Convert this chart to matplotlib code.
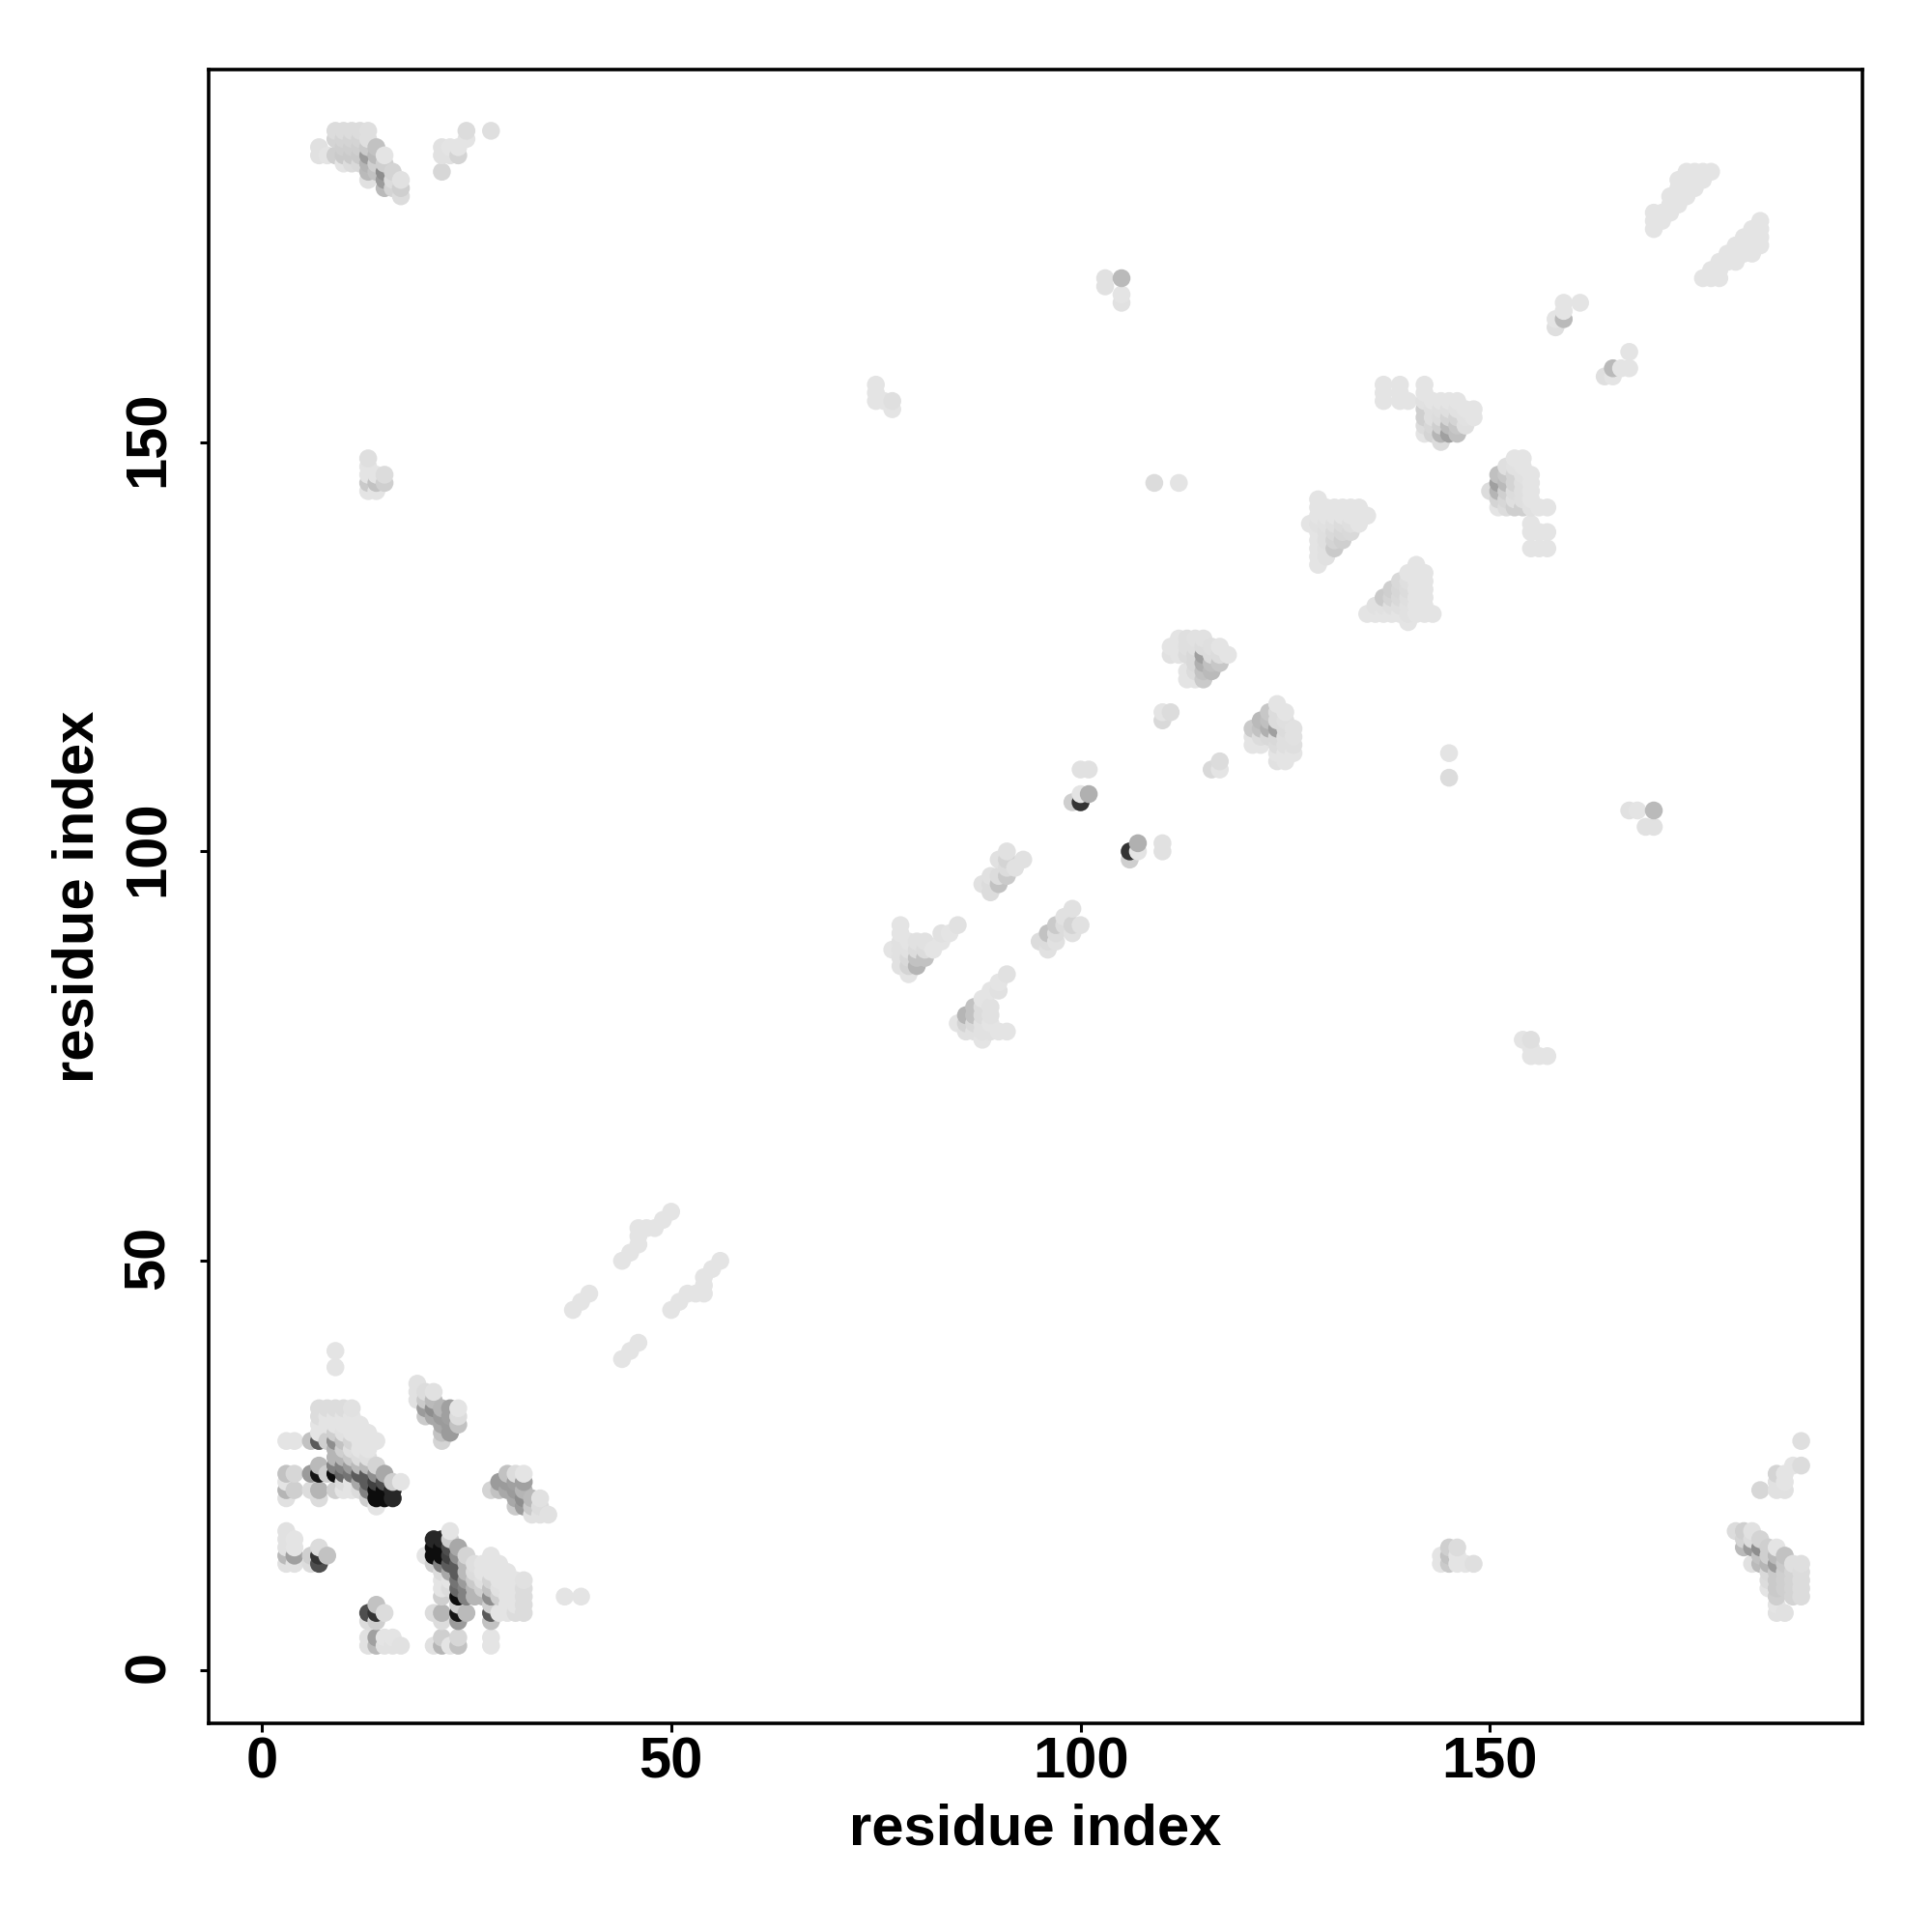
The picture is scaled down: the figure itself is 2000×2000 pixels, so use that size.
import matplotlib
matplotlib.use("Agg")
import matplotlib.pyplot as plt
from matplotlib.transforms import ScaledTranslation

plt.rcParams['font.family'] = ['Liberation Sans', 'DejaVu Sans']

# contact map: {residue i: {residue j: grey level}}, i < j; the map is symmetric
block_n_terminal = {
    3: {13: .87, 14: .72, 15: .87, 16: .87, 17: .87, 21: .87, 22: .7, 23: .88, 24: .75, 28: .88},
    4: {13: .87, 14: .62, 15: .88, 16: .88, 22: .8, 24: .83, 28: .88},
    6: {13: .85, 14: .8, 22: .85, 24: .6, 28: .75},
    7: {13: .3, 14: .2, 15: .85, 21: .85, 22: .7, 24: .08, 25: .72, 28: .35, 29: .88, 30: .88, 31: .85, 32: .85},
    8: {14: .75, 24: .8, 28: .8, 30: .88, 31: .88, 32: .85},
    9: {22: .8, 24: .05, 25: .5, 26: .7, 27: .7, 28: .55, 29: .8, 30: .88, 31: .88, 32: .85, 37: .88, 39: .88},
    10: {22: .88, 23: .85, 24: .4, 25: .5, 26: .7, 27: .8, 28: .75, 29: .87, 30: .88, 31: .88, 32: .85},
    11: {22: .88, 23: .88, 24: .45, 25: .6, 26: .78, 27: .86, 28: .82, 29: .88, 30: .88, 31: .88, 32: .87},
    12: {22: .85, 23: .65, 24: .35, 25: .72, 26: .85, 27: .88, 28: .88, 29: .88, 30: .88},
    13: {21: .8, 22: .5, 23: .35, 24: .35, 25: .72, 26: .86, 27: .88, 28: .88, 29: .88},
    14: {20: .88, 21: .05, 22: .05, 23: .25, 24: .55, 25: .82, 28: .88},
    15: {21: .05, 22: .05, 23: .3, 24: .65},
    16: {21: .15, 22: .15, 23: .8},
    17: {23: .88},
    19: {33: .87, 34: .87, 35: .87},
    20: {31: .78, 32: .6, 33: .78, 34: .85},
    21: {31: .65, 32: .55, 33: .72, 34: .87},
    22: {28: .82, 29: .75, 30: .65, 31: .6, 32: .7},
    23: {29: .6, 30: .6, 31: .62, 32: .62},
    24: {30: .75, 31: .85, 32: .88},
}
block_strand_pairs = {
    38: {44: .88}, 39: {45: .88}, 40: {46: .88},
    44: {50: .88}, 45: {51: .88}, 46: {52: .88, 53: .88, 54: .88},
    47: {54: .88}, 48: {54: .88}, 49: {55: .88}, 50: {56: .88},
}
block_long_range = {
    7: {185: .87, 186: .87},
    8: {185: .88},
    9: {185: .8, 187: .82, 188: .85},
    10: {184: .88, 185: .78, 186: .8, 187: .82, 188: .85},
    11: {184: .85, 185: .78, 186: .8, 187: .82, 188: .85},
    12: {184: .84, 185: .78, 186: .8, 187: .82, 188: .85},
    13: {144: .88, 145: .78, 146: .88, 147: .88, 148: .86, 182: .87, 183: .72, 184: .7, 185: .6, 186: .78, 187: .86, 188: .86},
    14: {144: .88, 145: .75, 146: .88, 183: .75, 184: .8, 185: .72, 186: .75},
    15: {145: .8, 146: .85, 181: .72, 182: .6, 183: .55, 184: .8, 185: .88},
    16: {181: .82, 182: .85, 183: .82},
    17: {180: .85, 181: .8, 182: .87},
    22: {183: .83, 185: .87, 186: .87},
    23: {185: .87, 186: .88},
    24: {185: .82, 186: .88},
    25: {187: .88, 188: .85},
    28: {188: .86},
    75: {155: .88, 156: .88, 157: .88},
    76: {155: .88},
    77: {154: .88, 155: .86},
    103: {169: .87, 170: .87},
    105: {167: .87, 168: .88, 170: .72},
    109: {145: .85},
    112: {145: .88},
}
block_middle = {
    77: {88: .88},
    78: {86: .87, 87: .87, 88: .87, 89: .87, 90: .88, 91: .88},
    79: {85: .88, 86: .82, 87: .84, 88: .87, 89: .88},
    80: {86: .7, 87: .75, 88: .85, 89: .87},
    81: {87: .75, 88: .85, 89: .87},
    82: {88: .88},
    83: {89: .88, 90: .87},
    84: {90: .88},
    85: {91: .87},
    88: {96: .87},
    89: {95: .85, 96: .85, 97: .87},
    90: {96: .75, 97: .85, 99: .87},
    91: {97: .78, 98: .85, 99: .82, 100: .87},
    92: {98: .87},
    93: {99: .87},
    99: {106: .8},
    100: {106: .2, 107: .88, 110: .87},
    101: {107: .68, 110: .87},
}
block_c_terminal = {
    110: {116: .84, 117: .88},
    111: {117: .85, 124: .87, 125: .88},
    112: {124: .88, 125: .88, 126: .88},
    113: {121: .88, 122: .88, 124: .85, 125: .86, 126: .86},
    114: {121: .88, 122: .85, 123: .84, 124: .84, 125: .86, 126: .87},
    115: {121: .78, 122: .75, 123: .68, 124: .62, 125: .85, 126: .87},
    116: {122: .72, 123: .74, 124: .85, 125: .86},
    117: {123: .77, 124: .85, 125: .88},
    118: {124: .88},
    128: {140: .88},
    129: {135: .88, 136: .88, 137: .88, 138: .88, 139: .88, 140: .87, 141: .88, 142: .88, 143: .88},
    130: {136: .87, 137: .87, 138: .86, 139: .86, 140: .87, 141: .88, 142: .88},
    131: {137: .78, 138: .82, 139: .84, 140: .86, 141: .88, 142: .88},
    132: {138: .8, 139: .83, 140: .85, 141: .88, 142: .88},
    133: {139: .84, 140: .86, 141: .88, 142: .88},
    134: {140: .88, 142: .88},
    135: {141: .88},
    137: {155: .88, 156: .88, 157: .88},
    139: {155: .88, 156: .88, 157: .88},
    140: {155: .88},
    142: {151: .88, 152: .85, 153: .8, 154: .8, 155: .87, 156: .88, 157: .88},
    143: {151: .82, 152: .83, 153: .86, 154: .86, 155: .88},
    144: {150: .85, 151: .7, 152: .8, 153: .85, 154: .86, 155: .88},
    145: {151: .62, 152: .72, 153: .82, 154: .86, 155: .88},
    146: {151: .74, 152: .77, 153: .82, 154: .87, 155: .88},
    147: {152: .86, 153: .87, 154: .88},
    148: {153: .88, 154: .88},
    158: {164: .86, 165: .88},
    159: {165: .72, 166: .88, 167: .88},
    161: {167: .88},
    170: {176: .88, 177: .88, 178: .88},
    171: {177: .88, 178: .88},
    172: {178: .88, 179: .88, 180: .88},
    173: {179: .88, 180: .88, 181: .88, 182: .88},
    174: {180: .88, 181: .88, 182: .88, 183: .88},
    175: {181: .88, 182: .88, 183: .88},
    176: {182: .88, 183: .88},
    177: {183: .88},
}
x_ticks = [0, 50, 100, 150]
y_ticks = [0, 50, 100, 150]
axis_label = "residue index"

cells = {}
for block in (block_n_terminal, block_strand_pairs, block_long_range, block_middle, block_c_terminal):
    for i, row in block.items():
        for j, shade in row.items():
            cells[(i, j)] = shade
            cells[(j, i)] = shade
ordered = sorted(cells)
xs = [p[0] for p in ordered]
ys = [p[1] for p in ordered]
greys = [str(min(cells[p] * 1.015, 1.0)) for p in ordered]

fig = plt.figure(figsize=(20, 20), dpi=100, facecolor='white')
ax = fig.add_axes([216 / 2000, 1 - 1784 / 2000, 1712 / 2000, 1712 / 2000])
ax.scatter(xs, ys, s=178, c=greys, linewidths=0, zorder=2, clip_on=True)
ax.set_xlim(-6.48, 195.48)
ax.set_ylim(-6.48, 195.48)
ax.set_xticks(x_ticks)
ax.set_yticks(y_ticks)
ax.tick_params(length=6.5, width=2.2, labelsize=43)
ax.tick_params(axis='x', pad=3)
ax.tick_params(axis='y', pad=18)
for lab in ax.get_xticklabels() + ax.get_yticklabels():
    lab.set_fontweight('bold')
nudge_up = ScaledTranslation(0, 3.5 / 100, fig.dpi_scale_trans)
for lab in ax.get_yticklabels():
    lab.set_rotation(90)
    lab.set_va('center')
    lab.set_transform(lab.get_transform() + nudge_up)
for s in ax.spines.values():
    s.set_linewidth(2.6)
fig.text(1072 / 2000, 1 - 1894 / 2000, axis_label, fontsize=43, fontweight='bold', ha='center', va='center')
fig.text(81.5 / 2000, 1 - 928 / 2000, axis_label, fontsize=43, fontweight='bold', ha='center', va='center', rotation=90)
fig.savefig("out.png", dpi=100, facecolor='white')
